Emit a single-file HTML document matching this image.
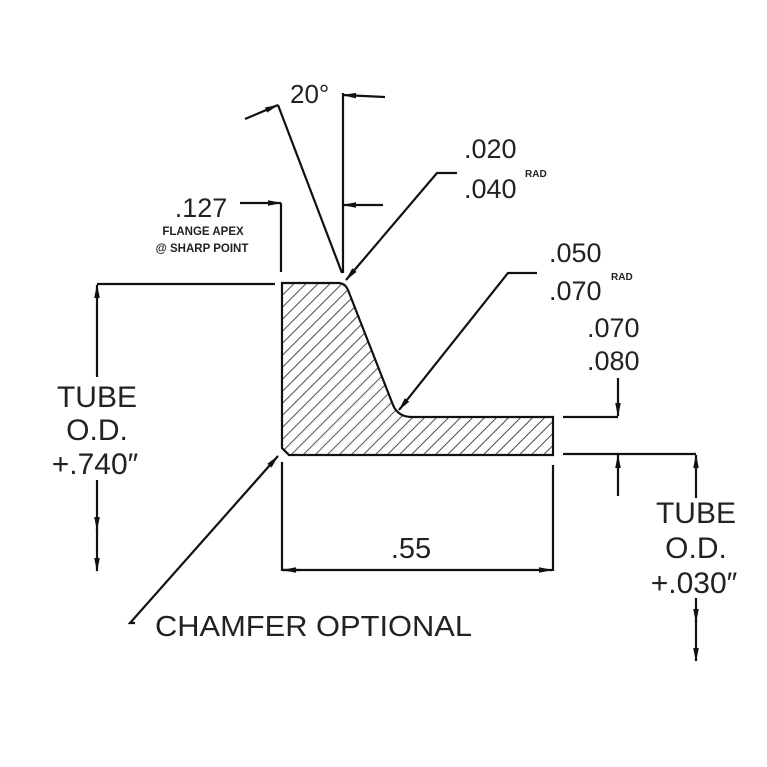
<!DOCTYPE html>
<html><head><meta charset="utf-8"><style>
html,body{margin:0;padding:0;background:#fff;}
svg{display:block;}
text{font-family:"Liberation Sans",sans-serif;fill:#222;}
</style></head><body>
<svg width="767" height="767" viewBox="0 0 767 767" xmlns="http://www.w3.org/2000/svg">
<defs>
<marker id="a" markerWidth="14" markerHeight="8" refX="13" refY="4" orient="auto" markerUnits="userSpaceOnUse">
<path d="M0,1.2 L14,4 L0,6.8 z" fill="#111"/>
</marker>
<pattern id="h" width="8.5" height="8.5" patternUnits="userSpaceOnUse" patternTransform="rotate(45)">
<line x1="0" y1="0" x2="0" y2="8.5" stroke="#222" stroke-width="1.6"/>
</pattern>
<clipPath id="c"><path d="M282,283 L338,283 Q345,283 348,290 L393,405 Q398,417 412,417 L553,417 L553,455 L289,455 L282,448 Z"/></clipPath>
</defs>
<g stroke="#111" stroke-width="2.2" fill="none">
<rect x="270" y="270" width="300" height="200" fill="url(#h)" stroke="none" clip-path="url(#c)"/>
<path d="M282,283 L338,283 Q345,283 348,290 L393,405 Q398,417 412,417 L553,417 L553,455 L289,455 L282,448 Z"/>
<line x1="343" y1="93" x2="343" y2="273"/>
<line x1="385" y1="97" x2="343" y2="95" marker-end="url(#a)"/>
<line x1="278" y1="105" x2="342" y2="273"/>
<line x1="245" y1="119" x2="278" y2="105" marker-end="url(#a)"/>
<line x1="281" y1="203" x2="281" y2="272"/>
<line x1="240" y1="203" x2="281" y2="203" marker-end="url(#a)"/>
<line x1="383" y1="205" x2="343" y2="205" marker-end="url(#a)"/>
<polyline points="457,173 437,173 346,280" marker-end="url(#a)"/>
<polyline points="537,273 508,273 399,410" marker-end="url(#a)"/>
<line x1="97" y1="284" x2="275" y2="284"/>
<line x1="97" y1="377" x2="97" y2="285" marker-end="url(#a)"/>
<line x1="97" y1="480" x2="97" y2="530" marker-end="url(#a)"/>
<line x1="97" y1="528" x2="97" y2="571" marker-end="url(#a)"/>
<polyline points="563,417 618,417"/>
<line x1="618" y1="378" x2="618" y2="416" marker-end="url(#a)"/>
<line x1="563" y1="454" x2="696" y2="454"/>
<line x1="618" y1="496" x2="618" y2="455" marker-end="url(#a)"/>
<line x1="696" y1="498" x2="696" y2="455" marker-end="url(#a)"/>
<line x1="696" y1="598" x2="696" y2="622" marker-end="url(#a)"/>
<line x1="696" y1="620" x2="696" y2="661" marker-end="url(#a)"/>
<line x1="282" y1="462" x2="282" y2="571"/>
<line x1="553" y1="465" x2="553" y2="571"/>
<line x1="300" y1="570" x2="283" y2="570" marker-end="url(#a)"/>
<line x1="283" y1="570" x2="552" y2="570" marker-end="url(#a)"/>
<polyline points="135,623 130,623 278,456" marker-end="url(#a)"/>
</g>
<g>
<text x="290" y="103" font-size="26">20°</text>
<text x="464" y="158" font-size="27">.020</text>
<text x="464" y="198" font-size="27">.040</text>
<text x="525" y="177" font-size="10" font-weight="bold">RAD</text>
<text x="549" y="262" font-size="27">.050</text>
<text x="549" y="300" font-size="27">.070</text>
<text x="611" y="280" font-size="10" font-weight="bold">RAD</text>
<text x="587" y="337" font-size="27">.070</text>
<text x="587" y="370" font-size="27">.080</text>
<text x="201" y="217" font-size="27" text-anchor="middle">.127</text>
<text x="203" y="235" font-size="11.5" font-weight="bold" text-anchor="middle">FLANGE APEX</text>
<text x="202" y="252" font-size="11.5" font-weight="bold" text-anchor="middle">@ SHARP POINT</text>
<text x="97" y="407" font-size="30" text-anchor="middle">TUBE</text>
<text x="97" y="440" font-size="30" text-anchor="middle">O.D.</text>
<text x="95" y="474" font-size="30" text-anchor="middle">+.740″</text>
<text x="696" y="523" font-size="30" text-anchor="middle">TUBE</text>
<text x="696" y="558" font-size="30" text-anchor="middle">O.D.</text>
<text x="694" y="593" font-size="30" text-anchor="middle">+.030″</text>
<text x="411" y="558" font-size="29" text-anchor="middle">.55</text>
<text x="155" y="636" font-size="29" textLength="317" lengthAdjust="spacingAndGlyphs">CHAMFER OPTIONAL</text>
</g>
</svg>
</body></html>
